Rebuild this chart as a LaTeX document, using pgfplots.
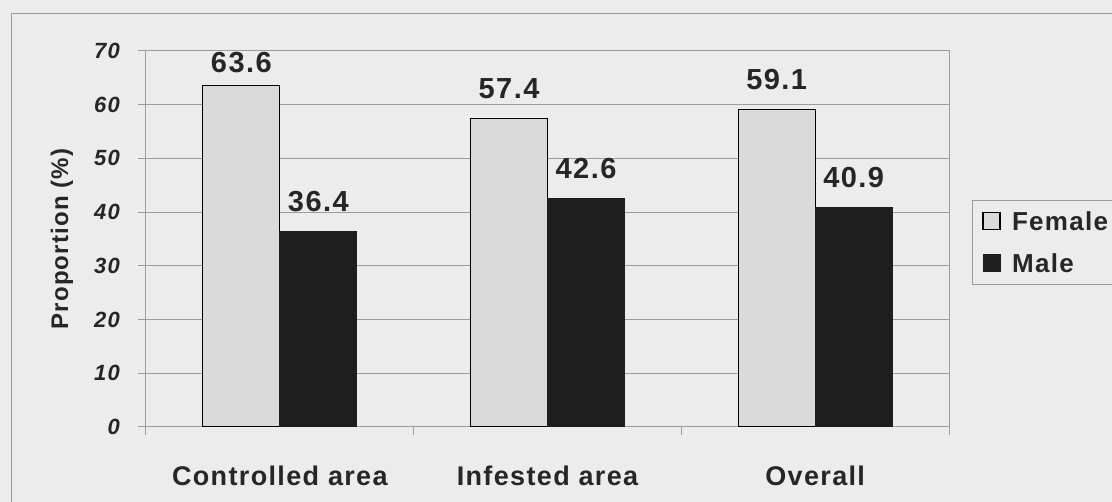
\documentclass[border=0pt]{standalone}
\usepackage{pgfplots}
\pgfplotsset{compat=1.18}
\usepackage{pgfplotstable}
\usepackage{fontspec}
\setmainfont{Liberation Sans}[LetterSpace=5]

\definecolor{paper}{HTML}{ECECEC}
\definecolor{ink}{HTML}{262626}
\definecolor{femalefill}{HTML}{DADADA}
\definecolor{malefill}{HTML}{1E1E1E}
\definecolor{rule}{HTML}{9C9C9C}

% proportions by sex; gap = lift of the value label above the bar (pt)
\pgfplotstableread{
x y gap
0 63.6 13
1 57.4 20
2 59.1 20
}\femaletab
\pgfplotstableread{
x y gap
0 36.4 20
1 42.6 20
2 40.9 20
}\maletab

\begin{document}
\begin{tikzpicture}[x=1pt,y=1pt]
\fill[paper] (0,0) rectangle (1112,502);
\useasboundingbox (0,0) rectangle (1112,502);
\draw[rule, line width=1pt] (11,0) -- (11,488) -- (1112,488);
\begin{axis}[
  at={(146pt,75pt)}, anchor=south west,
  scale only axis, width=803pt, height=376pt,
  xmin=-0.5, xmax=2.5, ymin=0, ymax=70,
  ytick={0,10,...,70},
  ymajorgrids, grid style={rule, line width=1pt},
  axis line style={rule, line width=1pt},
  tick style={rule, line width=1pt},
  tick align=outside, major tick length=8pt,
  xtick pos=bottom, ytick pos=left,
  xtick={-0.5,0.5,1.5,2.5}, xticklabels={},
  extra x ticks={0,1,2},
  extra x tick labels={Controlled area, Infested area, Overall},
  extra x tick style={grid=none, tick style={draw=none}},
  xticklabel style={font=\fontsize{27}{27}\selectfont\bfseries, text=ink,
    anchor=base, inner sep=0pt, yshift=-51pt},
  yticklabel style={font=\fontsize{22}{22}\selectfont\bfseries\itshape, text=ink,
    anchor=east, inner sep=0pt, xshift=-18pt},
  /pgf/number format/assume math mode=true,
  ylabel={Proportion (\%)},
  ylabel style={at={(axis description cs:-0.1046,0.5)}, anchor=center,
    font=\fontsize{24}{24}\selectfont\bfseries, text=ink},
  legend style={at={(rel axis cs:1.0286,0.605)}, anchor=north west,
    draw=rule, fill=paper, line width=1pt,
    font=\fontsize{26}{26}\selectfont\bfseries, text=ink,
    inner xsep=10pt, inner ysep=11.5pt, row sep=24pt,
    nodes={inner sep=0pt, text height=18pt, text depth=0pt}},
  legend cell align=left,
]
\addplot[ybar, bar width=77pt, bar shift=-38.5pt,
  fill=femalefill, draw=black, line width=1.2pt,
  legend image code/.code={\draw[fill=femalefill, draw=black, line width=1.2pt] (0pt,-8pt) rectangle (17pt,9pt); \path[draw=none, fill=none] (0pt,0pt) -- (29pt,0pt);},
  visualization depends on={\thisrow{gap}\as\labgap},
  nodes near coords,
  nodes near coords style={anchor=base, inner sep=0pt, xshift=-38.5pt, yshift=\labgap pt,
    font=\fontsize{29}{29}\selectfont\bfseries, text=ink}]
  table[x=x, y=y]{\femaletab};
\addlegendentry{Female}
\addplot[ybar, bar width=77pt, bar shift=38.5pt,
  fill=malefill, draw=malefill, line width=1pt,
  legend image code/.code={\draw[fill=malefill, draw=malefill] (0pt,-8pt) rectangle (17pt,9pt); \path[draw=none, fill=none] (0pt,0pt) -- (29pt,0pt);},
  visualization depends on={\thisrow{gap}\as\labgap},
  nodes near coords,
  nodes near coords style={anchor=base, inner sep=0pt, xshift=38.5pt, yshift=\labgap pt,
    font=\fontsize{29}{29}\selectfont\bfseries, text=ink}]
  table[x=x, y=y]{\maletab};
\addlegendentry{Male}
\end{axis}
\end{tikzpicture}
\end{document}
